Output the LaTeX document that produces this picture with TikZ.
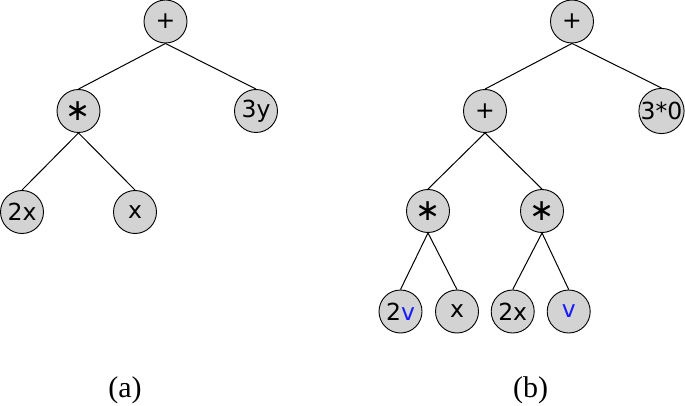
\documentclass[tikz,border=0pt]{standalone}
\usepackage{fontspec}
\setmainfont{Liberation Serif}
\newfontfamily\nodefont{DejaVu Sans}
\definecolor{nodegray}{HTML}{D3D3D3}
\definecolor{vblue}{HTML}{1A1AFF}
\newcommand{\bigast}{{\fontsize{30}{30}\selectfont ∗}}
\begin{document}
\begin{tikzpicture}[x=1pt,y=-1pt,
  tn/.style={circle,draw=black,line width=0.9pt,fill=nodegray,minimum size=43pt,inner sep=0pt,font=\nodefont\fontsize{23.5}{23.5}\selectfont},
  ed/.style={line width=1pt},
  captext/.style={font=\fontsize{30}{30}\selectfont,inner sep=0pt}]
\path[use as bounding box] (0,0) rectangle (685,406);
% tree (a)
\node[tn] (a1) at (165.5,21.5) {+};
\node[tn] (a2) at (78.5,111) {\bigast};
\node[tn] (a3) at (256,111) {3y};
\node[tn] (a4) at (22,212) {2x};
\node[tn] (a5) at (135,212) {x};
\draw[ed] (a1.south) -- (a2.north);
\draw[ed] (a1.south) -- (a3.north);
\draw[ed] (a2.south) -- (a4.north);
\draw[ed] (a2.south) -- (a5.north);
% tree (b)
\node[tn] (b1) at (572,21.5) {+};
\node[tn] (b2) at (485,111) {+};
\node[tn] (b3) at (661.5,111) {3*0};
\node[tn] (b4) at (428,211) {\bigast};
\node[tn] (b5) at (542,211) {\bigast};
\node[tn] (b6) at (400.5,311.5) {2\textcolor{vblue}{v}};
\node[tn] (b7) at (457,311.5) {x};
\node[tn] (b8) at (512.7,311.5) {2x};
\node[tn] (b9) at (568.7,311.5) {\textcolor{vblue}{v}};
\draw[ed] (b1.south) -- (b2.north);
\draw[ed] (b1.south) -- (b3.north);
\draw[ed] (b2.south) -- (b4.north);
\draw[ed] (b2.south) -- (b5.north);
\draw[ed] (b4.south) -- (b6.north);
\draw[ed] (b4.south) -- (b7.north);
\draw[ed] (b5.south) -- (b8.north);
\draw[ed] (b5.south) -- (b9.north);
% captions
\node[captext] (capa) at (125,390) {(a)};
\node[captext] (capb) at (530.5,390) {(b)};
\end{tikzpicture}
\end{document}
